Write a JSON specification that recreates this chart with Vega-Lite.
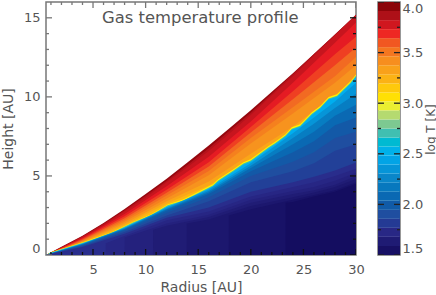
{"$schema":"https://vega.github.io/schema/vega-lite/v6.json","padding":{"left":0,"top":1,"right":0,"bottom":0},"background":"white","config":{"font":"DejaVu Sans","view":{"stroke":"#777","strokeWidth":1.5},"style":{"cell":{"stroke":"#777","strokeWidth":1.5}},"axis":{"grid":false,"labelFontSize":13,"titleFontSize":14,"labelColor":"#555","titleColor":"#555","titleFontWeight":"normal","domain":false,"ticks":false,"labelFont":"DejaVu Sans","titleFont":"DejaVu Sans"}},"hconcat":[{"width":310,"height":253,"layer":[{"data":{"values":[{"r":0.53,"h":0,"t":3.93},{"r":2,"h":0.515,"t":3.93},{"r":4,"h":1.22,"t":3.93},{"r":6,"h":2.03,"t":3.93},{"r":8,"h":2.91,"t":3.93},{"r":10,"h":3.85,"t":3.93},{"r":12,"h":4.83,"t":3.93},{"r":14,"h":5.86,"t":3.93},{"r":16,"h":6.93,"t":3.93},{"r":18,"h":8.03,"t":3.93},{"r":20,"h":9.16,"t":3.93},{"r":22,"h":10.32,"t":3.93},{"r":24,"h":11.5,"t":3.93},{"r":26,"h":12.71,"t":3.93},{"r":28,"h":13.94,"t":3.93},{"r":30,"h":15.2,"t":3.93},{"r":0.53,"h":0,"t":3.85},{"r":2,"h":0.49,"t":3.85},{"r":4,"h":1.185,"t":3.85},{"r":6,"h":1.97,"t":3.85},{"r":8,"h":2.83,"t":3.85},{"r":10,"h":3.74,"t":3.85},{"r":12,"h":4.7,"t":3.85},{"r":14,"h":5.7,"t":3.85},{"r":16,"h":6.75,"t":3.85},{"r":18,"h":7.88,"t":3.85},{"r":20,"h":9.0,"t":3.85},{"r":22,"h":10.22,"t":3.85},{"r":24,"h":11.45,"t":3.85},{"r":26,"h":12.71,"t":3.85},{"r":28,"h":13.94,"t":3.85},{"r":30,"h":15.2,"t":3.85},{"r":0.53,"h":0,"t":3.8},{"r":2,"h":0.47,"t":3.8},{"r":4,"h":1.15,"t":3.8},{"r":6,"h":1.9,"t":3.8},{"r":8,"h":2.76,"t":3.8},{"r":10,"h":3.62,"t":3.8},{"r":12,"h":4.6,"t":3.8},{"r":14,"h":5.56,"t":3.8},{"r":16,"h":6.58,"t":3.8},{"r":18,"h":7.7,"t":3.8},{"r":20,"h":8.85,"t":3.8},{"r":22,"h":10.1,"t":3.8},{"r":24,"h":11.3,"t":3.8},{"r":26,"h":12.6,"t":3.8},{"r":28,"h":13.88,"t":3.8},{"r":30,"h":15.2,"t":3.8},{"r":0.53,"h":0,"t":3.72},{"r":2,"h":0.45,"t":3.72},{"r":4,"h":1.08,"t":3.72},{"r":8,"h":2.6,"t":3.72},{"r":12,"h":4.35,"t":3.72},{"r":16,"h":6.21,"t":3.72},{"r":20,"h":8.45,"t":3.72},{"r":24,"h":10.9,"t":3.72},{"r":28,"h":13.42,"t":3.72},{"r":30,"h":14.7,"t":3.72},{"r":0.53,"h":0,"t":3.65},{"r":2,"h":0.42,"t":3.65},{"r":4,"h":1.02,"t":3.65},{"r":8,"h":2.45,"t":3.65},{"r":12,"h":4.12,"t":3.65},{"r":16,"h":5.86,"t":3.65},{"r":20,"h":8.1,"t":3.65},{"r":24,"h":10.35,"t":3.65},{"r":28,"h":12.7,"t":3.65},{"r":30,"h":13.8,"t":3.65},{"r":0.53,"h":0,"t":3.55},{"r":2,"h":0.39,"t":3.55},{"r":4,"h":0.97,"t":3.55},{"r":8,"h":2.33,"t":3.55},{"r":12,"h":3.94,"t":3.55},{"r":16,"h":5.59,"t":3.55},{"r":20,"h":7.75,"t":3.55},{"r":24,"h":9.85,"t":3.55},{"r":28,"h":12.0,"t":3.55},{"r":30,"h":13.12,"t":3.55},{"r":0.53,"h":0,"t":3.47},{"r":2,"h":0.36,"t":3.47},{"r":4,"h":0.92,"t":3.47},{"r":8,"h":2.21,"t":3.47},{"r":12,"h":3.76,"t":3.47},{"r":16,"h":5.32,"t":3.47},{"r":20,"h":7.4,"t":3.47},{"r":24,"h":9.35,"t":3.47},{"r":28,"h":11.3,"t":3.47},{"r":30,"h":12.52,"t":3.47},{"r":0.53,"h":0,"t":3.4},{"r":2,"h":0.33,"t":3.4},{"r":4,"h":0.87,"t":3.4},{"r":8,"h":2.1,"t":3.4},{"r":12,"h":3.58,"t":3.4},{"r":16,"h":5.05,"t":3.4},{"r":20,"h":7.05,"t":3.4},{"r":24,"h":8.95,"t":3.4},{"r":28,"h":10.9,"t":3.4},{"r":30,"h":12.0,"t":3.4},{"r":0.53,"h":0,"t":3.3},{"r":2,"h":0.29,"t":3.3},{"r":4,"h":0.82,"t":3.3},{"r":8,"h":2.0,"t":3.3},{"r":12,"h":3.4,"t":3.3},{"r":16,"h":4.65,"t":3.3},{"r":20,"h":6.4,"t":3.3},{"r":24,"h":8.12,"t":3.3},{"r":28,"h":10.1,"t":3.3},{"r":30,"h":11.36,"t":3.3},{"r":0.53,"h":0,"t":3.22},{"r":2,"h":0.26,"t":3.22},{"r":4,"h":0.78,"t":3.22},{"r":8,"h":1.9,"t":3.22},{"r":12,"h":3.25,"t":3.22},{"r":16,"h":4.4,"t":3.22},{"r":20,"h":6.1,"t":3.22},{"r":24,"h":7.95,"t":3.22},{"r":28,"h":10.0,"t":3.22},{"r":30,"h":11.3,"t":3.22},{"r":0.53,"h":0,"t":3.0},{"r":0.96,"h":0.17,"t":3.0},{"r":4.1,"h":0.82,"t":3.0},{"r":6.66,"h":1.4,"t":3.0},{"r":8.85,"h":2.11,"t":3.0},{"r":10.5,"h":2.56,"t":3.0},{"r":12.1,"h":3.2,"t":3.0},{"r":13.6,"h":3.52,"t":3.0},{"r":16.4,"h":4.48,"t":3.0},{"r":16.9,"h":4.79,"t":3.0},{"r":18.35,"h":5.42,"t":3.0},{"r":19.3,"h":5.86,"t":3.0},{"r":20,"h":6.05,"t":3.0},{"r":21.7,"h":6.9,"t":3.0},{"r":22.3,"h":7.15,"t":3.0},{"r":23.3,"h":7.64,"t":3.0},{"r":23.9,"h":8.08,"t":3.0},{"r":24.7,"h":8.27,"t":3.0},{"r":25.8,"h":9.02,"t":3.0},{"r":26.6,"h":9.42,"t":3.0},{"r":27.4,"h":9.99,"t":3.0},{"r":28.2,"h":10.16,"t":3.0},{"r":29.47,"h":10.98,"t":3.0},{"r":30,"h":11.42,"t":3.0},{"r":0.53,"h":0,"t":2.7},{"r":0.96,"h":0.15,"t":2.7},{"r":4.1,"h":0.79,"t":2.7},{"r":6.66,"h":1.36,"t":2.7},{"r":8.85,"h":2.07,"t":2.7},{"r":10.5,"h":2.51,"t":2.7},{"r":12.1,"h":3.14,"t":2.7},{"r":13.6,"h":3.45,"t":2.7},{"r":16.4,"h":4.4,"t":2.7},{"r":16.9,"h":4.71,"t":2.7},{"r":18.35,"h":5.34,"t":2.7},{"r":19.3,"h":5.78,"t":2.7},{"r":20,"h":5.97,"t":2.7},{"r":21.7,"h":6.81,"t":2.7},{"r":22.3,"h":7.06,"t":2.7},{"r":23.3,"h":7.55,"t":2.7},{"r":23.9,"h":7.99,"t":2.7},{"r":24.7,"h":8.18,"t":2.7},{"r":25.8,"h":8.93,"t":2.7},{"r":26.6,"h":9.33,"t":2.7},{"r":27.4,"h":9.9,"t":2.7},{"r":28.2,"h":10.07,"t":2.7},{"r":29.47,"h":10.89,"t":2.7},{"r":30,"h":11.33,"t":2.7},{"r":0.53,"h":0,"t":2.5},{"r":0.96,"h":0.12,"t":2.5},{"r":4.1,"h":0.75,"t":2.5},{"r":6.66,"h":1.3,"t":2.5},{"r":8.85,"h":2.0,"t":2.5},{"r":10.5,"h":2.44,"t":2.5},{"r":12.1,"h":3.07,"t":2.5},{"r":13.6,"h":3.38,"t":2.5},{"r":16.4,"h":4.33,"t":2.5},{"r":16.9,"h":4.64,"t":2.5},{"r":18.35,"h":5.27,"t":2.5},{"r":19.3,"h":5.71,"t":2.5},{"r":20,"h":5.9,"t":2.5},{"r":21.7,"h":6.74,"t":2.5},{"r":22.3,"h":6.99,"t":2.5},{"r":23.3,"h":7.48,"t":2.5},{"r":23.9,"h":7.92,"t":2.5},{"r":24.7,"h":8.11,"t":2.5},{"r":25.8,"h":8.86,"t":2.5},{"r":26.6,"h":9.26,"t":2.5},{"r":27.4,"h":9.83,"t":2.5},{"r":28.2,"h":10.0,"t":2.5},{"r":29.47,"h":10.82,"t":2.5},{"r":30,"h":11.26,"t":2.5},{"r":0.53,"h":0,"t":2.35},{"r":4,"h":0.71,"t":2.35},{"r":8,"h":1.72,"t":2.35},{"r":12,"h":3.0,"t":2.35},{"r":16,"h":4.15,"t":2.35},{"r":20,"h":5.8,"t":2.35},{"r":24,"h":7.7,"t":2.35},{"r":26,"h":8.7,"t":2.35},{"r":28,"h":9.7,"t":2.35},{"r":30,"h":10.9,"t":2.35},{"r":0.53,"h":0,"t":2.2},{"r":4,"h":0.69,"t":2.2},{"r":8,"h":1.68,"t":2.2},{"r":12,"h":2.93,"t":2.2},{"r":16,"h":4.05,"t":2.2},{"r":20,"h":5.65,"t":2.2},{"r":24,"h":7.4,"t":2.2},{"r":26,"h":8.3,"t":2.2},{"r":28,"h":9.3,"t":2.2},{"r":30,"h":10.2,"t":2.2},{"r":0.53,"h":0,"t":2.08},{"r":4,"h":0.67,"t":2.08},{"r":8,"h":1.64,"t":2.08},{"r":12,"h":2.87,"t":2.08},{"r":16,"h":3.95,"t":2.08},{"r":20,"h":5.5,"t":2.08},{"r":24,"h":7.0,"t":2.08},{"r":26,"h":7.8,"t":2.08},{"r":28,"h":8.8,"t":2.08},{"r":30,"h":9.5,"t":2.08},{"r":0.53,"h":0,"t":1.98},{"r":4,"h":0.64,"t":1.98},{"r":8,"h":1.6,"t":1.98},{"r":12,"h":2.8,"t":1.98},{"r":16,"h":3.85,"t":1.98},{"r":20,"h":5.3,"t":1.98},{"r":24,"h":6.5,"t":1.98},{"r":26,"h":7.2,"t":1.98},{"r":28,"h":8.2,"t":1.98},{"r":30,"h":8.7,"t":1.98},{"r":0.53,"h":0,"t":1.9},{"r":4,"h":0.6,"t":1.9},{"r":8,"h":1.54,"t":1.9},{"r":12,"h":2.65,"t":1.9},{"r":16,"h":3.65,"t":1.9},{"r":20,"h":5.0,"t":1.9},{"r":24,"h":5.9,"t":1.9},{"r":26,"h":6.5,"t":1.9},{"r":28,"h":7.4,"t":1.9},{"r":30,"h":7.8,"t":1.9},{"r":0.53,"h":0,"t":1.84},{"r":4,"h":0.55,"t":1.84},{"r":8,"h":1.45,"t":1.84},{"r":12,"h":2.5,"t":1.84},{"r":16,"h":3.4,"t":1.84},{"r":20,"h":4.6,"t":1.84},{"r":24,"h":5.3,"t":1.84},{"r":26,"h":5.8,"t":1.84},{"r":28,"h":6.6,"t":1.84},{"r":30,"h":7.0,"t":1.84},{"r":0.53,"h":0,"t":1.76},{"r":4,"h":0.5,"t":1.76},{"r":8,"h":1.35,"t":1.76},{"r":12,"h":2.35,"t":1.76},{"r":16,"h":3.0,"t":1.76},{"r":20,"h":4.0,"t":1.76},{"r":24,"h":4.6,"t":1.76},{"r":26,"h":4.95,"t":1.76},{"r":28,"h":5.35,"t":1.76},{"r":30,"h":5.85,"t":1.76},{"r":6.2,"h":0,"t":1.72},{"r":6.21,"h":0.75,"t":1.72},{"r":8,"h":1.2,"t":1.72},{"r":12,"h":2.2,"t":1.72},{"r":16,"h":2.75,"t":1.72},{"r":20,"h":3.7,"t":1.72},{"r":24,"h":4.3,"t":1.72},{"r":26,"h":4.6,"t":1.72},{"r":28,"h":5.0,"t":1.72},{"r":30,"h":5.45,"t":1.72},{"r":8,"h":0,"t":1.68},{"r":8.01,"h":1.1,"t":1.68},{"r":12,"h":2.0,"t":1.68},{"r":16,"h":2.55,"t":1.68},{"r":20,"h":3.5,"t":1.68},{"r":24,"h":4.05,"t":1.68},{"r":26,"h":4.3,"t":1.68},{"r":28,"h":4.7,"t":1.68},{"r":30,"h":5.2,"t":1.68},{"r":10.7,"h":0,"t":1.64},{"r":10.71,"h":1.6,"t":1.64},{"r":12,"h":1.85,"t":1.64},{"r":16,"h":2.4,"t":1.64},{"r":20,"h":3.3,"t":1.64},{"r":24,"h":3.85,"t":1.64},{"r":26,"h":4.1,"t":1.64},{"r":28,"h":4.45,"t":1.64},{"r":30,"h":5.0,"t":1.64},{"r":13.9,"h":0,"t":1.6},{"r":13.91,"h":2.0,"t":1.6},{"r":16,"h":2.25,"t":1.6},{"r":20,"h":3.1,"t":1.6},{"r":24,"h":3.65,"t":1.6},{"r":26,"h":3.95,"t":1.6},{"r":28,"h":4.3,"t":1.6},{"r":30,"h":4.8,"t":1.6},{"r":17.9,"h":0,"t":1.56},{"r":17.91,"h":2.5,"t":1.56},{"r":20,"h":2.9,"t":1.56},{"r":24,"h":3.5,"t":1.56},{"r":26,"h":3.8,"t":1.56},{"r":28,"h":4.1,"t":1.56},{"r":30,"h":4.6,"t":1.56},{"r":23.3,"h":0,"t":1.52},{"r":23.31,"h":3.3,"t":1.52},{"r":24,"h":3.35,"t":1.52},{"r":26,"h":3.7,"t":1.52},{"r":28,"h":4.0,"t":1.52},{"r":30,"h":4.5,"t":1.52}]},"mark":{"type":"area","interpolate":"linear"},"encoding":{"x":{"field":"r","type":"quantitative","scale":{"domain":[0.53,30],"nice":false,"zero":false},"axis":{"orient":"bottom","values":[5,10,15,20,25,30],"labelPadding":8,"labelFlush":false,"title":"Radius [AU]","titlePadding":4}},"y":{"field":"h","type":"quantitative","stack":null,"scale":{"domain":[0,16],"nice":false},"axis":{"orient":"left","values":[0,5,10,15],"labelPadding":6,"labelFlush":true,"title":"Height [AU]","titlePadding":8}},"detail":{"field":"t"},"color":{"field":"t","type":"quantitative","legend":null,"scale":{"domain":[1.5,1.75,1.9,2.0,2.25,2.5,2.65,2.75,2.85,3.0,3.1,3.25,3.4,3.55,3.7,3.85,4.0],"range":["#120a5c","#2a2a8a","#1f4ea0","#0f5ca8","#0a85c8","#00aeef","#00bcc8","#60c0a0","#a8d080","#fff200","#ffd60a","#fbb016","#f7931e","#f26a22","#ed1c24","#b5121b","#7a0000"]}}}},{"data":{"values":[{"r":15.2,"h":15,"label":"Gas temperature profile"}]},"mark":{"type":"text","fontSize":16.4,"color":"#555","font":"DejaVu Sans"},"encoding":{"x":{"field":"r","type":"quantitative"},"y":{"field":"h","type":"quantitative"},"text":{"field":"label"}}},{"data":{"values":[{"v":5},{"v":10},{"v":15},{"v":20},{"v":25},{"v":30}]},"mark":{"type":"tick","orient":"vertical","size":12,"thickness":1.3,"color":"#111","clip":true,"opacity":1},"encoding":{"x":{"field":"v","type":"quantitative"},"y":{"datum":0,"type":"quantitative"}}},{"data":{"values":[{"v":5},{"v":10},{"v":15},{"v":20},{"v":25},{"v":30}]},"mark":{"type":"tick","orient":"vertical","size":12,"thickness":1.3,"color":"#777","clip":true,"opacity":1},"encoding":{"x":{"field":"v","type":"quantitative"},"y":{"datum":16,"type":"quantitative"}}},{"data":{"values":[{"v":1},{"v":2},{"v":3},{"v":4},{"v":6},{"v":7},{"v":8},{"v":9},{"v":11},{"v":12},{"v":13},{"v":14},{"v":16},{"v":17},{"v":18},{"v":19},{"v":21},{"v":22},{"v":23},{"v":24},{"v":26},{"v":27},{"v":28},{"v":29}]},"mark":{"type":"tick","orient":"vertical","size":6,"thickness":1.3,"color":"#111","clip":true,"opacity":1},"encoding":{"x":{"field":"v","type":"quantitative"},"y":{"datum":0,"type":"quantitative"}}},{"data":{"values":[{"v":1},{"v":2},{"v":3},{"v":4},{"v":6},{"v":7},{"v":8},{"v":9},{"v":11},{"v":12},{"v":13},{"v":14},{"v":16},{"v":17},{"v":18},{"v":19},{"v":21},{"v":22},{"v":23},{"v":24},{"v":26},{"v":27},{"v":28},{"v":29}]},"mark":{"type":"tick","orient":"vertical","size":6,"thickness":1.3,"color":"#777","clip":true,"opacity":1},"encoding":{"x":{"field":"v","type":"quantitative"},"y":{"datum":16,"type":"quantitative"}}},{"data":{"values":[{"v":0},{"v":5},{"v":10},{"v":15}]},"mark":{"type":"tick","orient":"horizontal","size":12,"thickness":1.3,"color":"#777","clip":true,"opacity":1},"encoding":{"y":{"field":"v","type":"quantitative"},"x":{"datum":0.53,"type":"quantitative"}}},{"data":{"values":[{"v":0},{"v":5},{"v":10},{"v":15}]},"mark":{"type":"tick","orient":"horizontal","size":12,"thickness":1.3,"color":"#111","clip":true,"opacity":1},"encoding":{"y":{"field":"v","type":"quantitative"},"x":{"datum":30,"type":"quantitative"}}},{"data":{"values":[{"v":1},{"v":2},{"v":3},{"v":4},{"v":6},{"v":7},{"v":8},{"v":9},{"v":11},{"v":12},{"v":13},{"v":14}]},"mark":{"type":"tick","orient":"horizontal","size":6,"thickness":1.3,"color":"#777","clip":true,"opacity":1},"encoding":{"y":{"field":"v","type":"quantitative"},"x":{"datum":0.53,"type":"quantitative"}}},{"data":{"values":[{"v":1},{"v":2},{"v":3},{"v":4},{"v":6},{"v":7},{"v":8},{"v":9},{"v":11},{"v":12},{"v":13},{"v":14}]},"mark":{"type":"tick","orient":"horizontal","size":6,"thickness":1.3,"color":"#111","clip":true,"opacity":1},"encoding":{"y":{"field":"v","type":"quantitative"},"x":{"datum":30,"type":"quantitative"}}}]},{"width":22,"height":253,"layer":[{"data":{"values":[{"lo":1.5,"hi":1.589,"mid":1.545},{"lo":1.589,"hi":1.679,"mid":1.634},{"lo":1.679,"hi":1.768,"mid":1.723},{"lo":1.768,"hi":1.857,"mid":1.812},{"lo":1.857,"hi":1.946,"mid":1.902},{"lo":1.946,"hi":2.036,"mid":1.991},{"lo":2.036,"hi":2.125,"mid":2.08},{"lo":2.125,"hi":2.214,"mid":2.17},{"lo":2.214,"hi":2.304,"mid":2.259},{"lo":2.304,"hi":2.393,"mid":2.348},{"lo":2.393,"hi":2.482,"mid":2.438},{"lo":2.482,"hi":2.571,"mid":2.527},{"lo":2.571,"hi":2.661,"mid":2.616},{"lo":2.661,"hi":2.75,"mid":2.705},{"lo":2.75,"hi":2.839,"mid":2.795},{"lo":2.839,"hi":2.929,"mid":2.884},{"lo":2.929,"hi":3.018,"mid":2.973},{"lo":3.018,"hi":3.107,"mid":3.063},{"lo":3.107,"hi":3.196,"mid":3.152},{"lo":3.196,"hi":3.286,"mid":3.241},{"lo":3.286,"hi":3.375,"mid":3.33},{"lo":3.375,"hi":3.464,"mid":3.42},{"lo":3.464,"hi":3.554,"mid":3.509},{"lo":3.554,"hi":3.643,"mid":3.598},{"lo":3.643,"hi":3.732,"mid":3.688},{"lo":3.732,"hi":3.821,"mid":3.777},{"lo":3.821,"hi":3.911,"mid":3.866},{"lo":3.911,"hi":4.0,"mid":3.955}]},"mark":{"type":"rect"},"encoding":{"x":{"datum":0,"type":"quantitative","scale":{"domain":[0,1],"nice":false},"axis":null},"x2":{"datum":1},"y":{"field":"lo","type":"quantitative","scale":{"domain":[1.5,4],"nice":false,"zero":false},"axis":{"orient":"right","values":[1.5,2,2.5,3,3.5,4],"format":".1f","labelPadding":2,"labelFlush":true,"title":"log T [K]","titleFontSize":12,"titleAngle":270,"titleX":30,"titleY":127,"titleBaseline":"middle","titleAlign":"center"}},"y2":{"field":"hi"},"color":{"field":"mid","type":"quantitative","legend":null,"scale":{"domain":[1.5,1.75,1.9,2.0,2.25,2.5,2.65,2.75,2.85,3.0,3.1,3.25,3.4,3.55,3.7,3.85,4.0],"range":["#120a5c","#2a2a8a","#1f4ea0","#0f5ca8","#0a85c8","#00aeef","#00bcc8","#60c0a0","#a8d080","#fff200","#ffd60a","#fbb016","#f7931e","#f26a22","#ed1c24","#b5121b","#7a0000"]}}}},{"data":{"values":[{"v":1.5},{"v":2},{"v":2.5},{"v":3},{"v":3.5},{"v":4}]},"mark":{"type":"tick","orient":"horizontal","size":12,"thickness":1.3,"color":"#222","clip":true,"opacity":1},"encoding":{"y":{"field":"v","type":"quantitative"},"x":{"datum":0,"type":"quantitative"}}},{"data":{"values":[{"v":1.5},{"v":2},{"v":2.5},{"v":3},{"v":3.5},{"v":4}]},"mark":{"type":"tick","orient":"horizontal","size":12,"thickness":1.3,"color":"#222","clip":true,"opacity":1},"encoding":{"y":{"field":"v","type":"quantitative"},"x":{"datum":1,"type":"quantitative"}}},{"data":{"values":[{"v":1.75},{"v":2.25},{"v":2.75},{"v":3.25},{"v":3.75}]},"mark":{"type":"tick","orient":"horizontal","size":6,"thickness":1.3,"color":"#222","clip":true,"opacity":1},"encoding":{"y":{"field":"v","type":"quantitative"},"x":{"datum":0,"type":"quantitative"}}},{"data":{"values":[{"v":1.75},{"v":2.25},{"v":2.75},{"v":3.25},{"v":3.75}]},"mark":{"type":"tick","orient":"horizontal","size":6,"thickness":1.3,"color":"#222","clip":true,"opacity":1},"encoding":{"y":{"field":"v","type":"quantitative"},"x":{"datum":1,"type":"quantitative"}}}]}],"spacing":11}
